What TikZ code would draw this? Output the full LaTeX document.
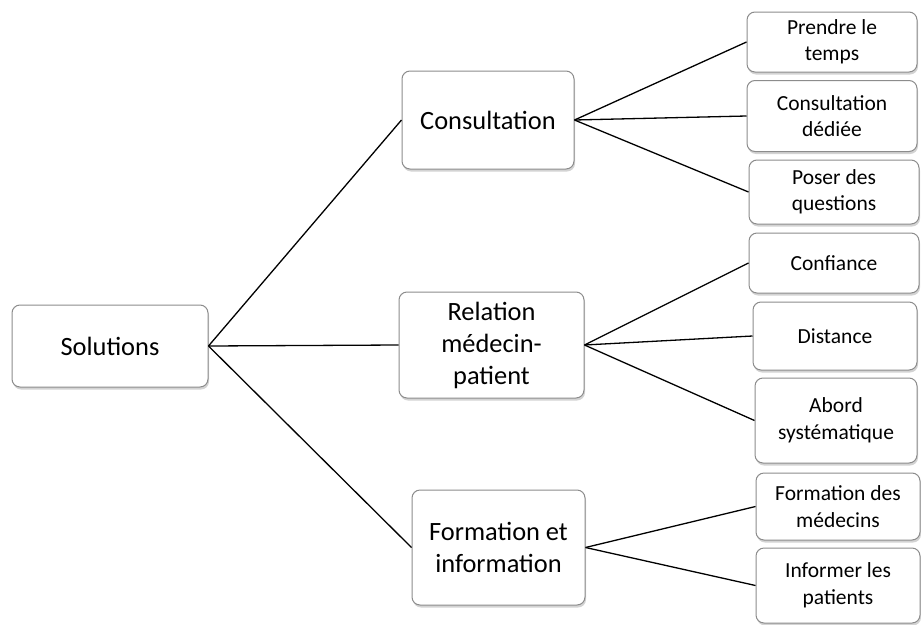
\documentclass[tikz,border=0pt]{standalone}
\usepackage{fontspec}
\setmainfont{Carlito}
\usetikzlibrary{shadows}
\begin{document}
\begin{tikzpicture}[x=1pt,y=-1pt,
  box/.style={draw=black!45, line width=1pt, fill=white, rounded corners=8pt,
    align=center, inner sep=2pt,
    drop shadow={opacity=0.35, shadow xshift=1pt, shadow yshift=-2.5pt}},
  big/.style={box, font=\fontsize{26.4}{32}\selectfont},
  small/.style={box, font=\fontsize{21.5}{26.5}\selectfont},
  link/.style={draw=black, line width=1.3pt}]
\useasboundingbox (0,0) rectangle (921,624);
\node[big, minimum width=196pt, minimum height=82pt] (sol) at (110,346) {Solutions};
\node[big, minimum width=172pt, minimum height=98pt] (cons) at (488,120) {Consultation};
\node[big, minimum width=185pt, minimum height=106pt] (rel) at (491.5,345) {Relation\\médecin-\\patient};
\node[big, minimum width=173pt, minimum height=115pt] (form) at (498.5,547.5) {Formation et\\information};
\node[small, minimum width=170pt, minimum height=60pt] (p1) at (832,42) {Prendre le\\temps};
\node[small, minimum width=170pt, minimum height=71pt] (p2) at (832,116) {Consultation\\dédiée};
\node[small, minimum width=170pt, minimum height=64pt] (p3) at (834,192) {Poser des\\questions};
\node[small, minimum width=170pt, minimum height=60pt] (p4) at (834,263) {Confiance};
\node[small, minimum width=164pt, minimum height=68pt] (p5) at (835,336) {Distance};
\node[small, minimum width=162pt, minimum height=85pt] (p6) at (836,420.5) {Abord\\systématique};
\node[small, minimum width=164pt, minimum height=67pt] (p7) at (838,506.5) {Formation des\\médecins};
\node[small, minimum width=164pt, minimum height=75pt] (p8) at (838,585.5) {Informer les\\patients};
\draw[link] (sol.east) -- (cons.west);
\draw[link] (sol.east) -- (rel.west);
\draw[link] (sol.east) -- (form.west);
\draw[link] (cons.east) -- (p1.west);
\draw[link] (cons.east) -- (p2.west);
\draw[link] (cons.east) -- (p3.west);
\draw[link] (rel.east) -- (p4.west);
\draw[link] (rel.east) -- (p5.west);
\draw[link] (rel.east) -- (p6.west);
\draw[link] (form.east) -- (p7.west);
\draw[link] (form.east) -- (p8.west);
\end{tikzpicture}
\end{document}
